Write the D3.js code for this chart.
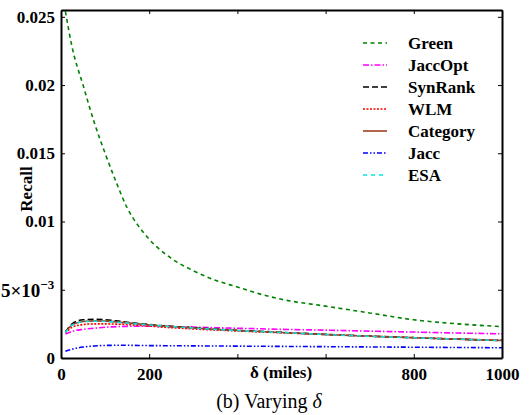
<!DOCTYPE html>
<html>
<head>
<meta charset="utf-8">
<script src="https://cdn.jsdelivr.net/npm/d3@7"></script>
<style>
  body { margin: 0; background: #fff; }
  svg { display: block; font-family: "Liberation Serif", "Times New Roman", serif; }
</style>
</head>
<body>
<svg id="chart"></svg>
<script>
const width = 531;
const height = 415;
const margin = { top: 10, right: 29, bottom: 57, left: 61 };

const delta = [10, 25, 50, 75, 100, 125, 150, 175, 200, 250, 300, 350, 400, 450, 500, 600, 700, 800, 900, 1000];

const green    = [0.0254, 0.0228, 0.0200, 0.0173, 0.0150, 0.0129, 0.0110, 0.0097, 0.0087, 0.0073, 0.0064, 0.0057, 0.0052, 0.0047, 0.0043, 0.0038, 0.0033, 0.0028, 0.0025, 0.0023];
const jaccOpt  = [0.00175, 0.00195, 0.0021, 0.00218, 0.00225, 0.0023, 0.00232, 0.00233, 0.00233, 0.0023, 0.00226, 0.00222, 0.00218, 0.00214, 0.0021, 0.00204, 0.00197, 0.0019, 0.00183, 0.00177];
const synRank  = [0.0019, 0.0025, 0.0028, 0.00283, 0.0028, 0.00272, 0.00262, 0.00253, 0.00245, 0.00232, 0.00222, 0.00212, 0.00203, 0.00196, 0.00188, 0.00173, 0.0016, 0.00149, 0.00138, 0.00128];
const wlm      = [0.00182, 0.00225, 0.00245, 0.0025, 0.0025, 0.00248, 0.00245, 0.0024, 0.00234, 0.00222, 0.00213, 0.00205, 0.00198, 0.00191, 0.00185, 0.00172, 0.0016, 0.00149, 0.00139, 0.0013];
const category = [0.00188, 0.00243, 0.00268, 0.00272, 0.0027, 0.00265, 0.00258, 0.0025, 0.00243, 0.0023, 0.0022, 0.0021, 0.00201, 0.00194, 0.00187, 0.00172, 0.00159, 0.00148, 0.00138, 0.00128];
const jacc     = [0.0005, 0.00065, 0.0008, 0.00088, 0.00092, 0.00093, 0.00093, 0.00092, 0.00091, 0.0009, 0.00089, 0.00088, 0.00087, 0.00086, 0.00085, 0.00083, 0.00081, 0.00079, 0.00077, 0.00075];
const esa      = [0.00185, 0.0024, 0.00265, 0.0027, 0.00268, 0.00263, 0.00256, 0.00249, 0.00242, 0.0023, 0.0022, 0.0021, 0.00201, 0.00194, 0.00187, 0.00172, 0.00159, 0.00148, 0.00138, 0.00128];

const xTicks = [0, 200, 400, 600, 800, 1000];
const xTickLabels = ["0", "200", "", "", "800", "1000"];
const yTicks = [0, 0.005, 0.01, 0.015, 0.02, 0.025];
const yTickLabels = ["0", "", "0.01", "0.015", "0.02", "0.025"];

const series = [
  { name: "Green",    values: green,    color: "#008000", dash: "4,3.5" },
  { name: "JaccOpt",  values: jaccOpt,  color: "#ff00ff", dash: "6,2,1.5,2" },
  { name: "SynRank",  values: synRank,  color: "#000000", dash: "6,3" },
  { name: "WLM",      values: wlm,      color: "#ff0000", dash: "2,1.5" },
  { name: "Category", values: category, color: "#a0401e", dash: null },
  { name: "Jacc",     values: jacc,     color: "#0000ff", dash: "5,2,1.5,2,1.5,2" },
  { name: "ESA",      values: esa,      color: "#00e5e5", dash: "4,4" }
];

const svg = d3.select("#chart").attr("width", width).attr("height", height);

const x = d3.scaleLinear().domain([0, 1000]).range([margin.left, width - margin.right]);
const y = d3.scaleLinear().domain([0, 0.0255]).range([height - margin.bottom, margin.top]);

svg.append("defs").append("clipPath").attr("id", "plot-clip")
  .append("rect")
  .attr("x", margin.left).attr("y", margin.top)
  .attr("width", width - margin.left - margin.right)
  .attr("height", height - margin.top - margin.bottom);

// lines
const line = d3.line()
  .x((d, i) => x(delta[i]))
  .y(d => y(d))
  .curve(d3.curveMonotoneX);

svg.append("g").attr("clip-path", "url(#plot-clip)")
  .selectAll("path")
  .data(series)
  .enter()
  .append("path")
  .attr("d", s => line(s.values))
  .attr("fill", "none")
  .attr("stroke", s => s.color)
  .attr("stroke-width", 1.6)
  .attr("stroke-dasharray", s => s.dash);

// axes, ticks pointing inward, mirrored on top and right
const fontSize = 17;
const styleAxis = (g) => {
  g.selectAll(".domain").attr("stroke-width", 2);
  g.selectAll(".tick line").attr("stroke-width", 1);
  g.selectAll("text")
    .attr("font-size", fontSize)
    .attr("font-weight", "bold")
    .attr("font-family", "Liberation Serif, Times New Roman, serif")
    .attr("fill", "#000");
};

svg.append("g")
  .attr("transform", "translate(0," + (height - margin.bottom) + ")")
  .call(d3.axisBottom(x).tickValues(xTicks).tickFormat((d, i) => xTickLabels[i]).tickSizeInner(-4).tickSizeOuter(0).tickPadding(10))
  .call(styleAxis);

svg.append("g")
  .attr("transform", "translate(0," + margin.top + ")")
  .call(d3.axisTop(x).tickValues(xTicks).tickFormat("").tickSizeInner(-4).tickSizeOuter(0))
  .call(styleAxis);

svg.append("g")
  .attr("transform", "translate(" + margin.left + ",0)")
  .call(d3.axisLeft(y).tickValues(yTicks).tickFormat((d, i) => yTickLabels[i]).tickSizeInner(-4).tickSizeOuter(0).tickPadding(6))
  .call(styleAxis);

svg.append("g")
  .attr("transform", "translate(" + (width - margin.right) + ",0)")
  .call(d3.axisRight(y).tickValues(yTicks).tickFormat("").tickSizeInner(-4).tickSizeOuter(0))
  .call(styleAxis);

// the 5x10^-3 label, right up against the left edge
const expLabel = svg.append("text")
  .attr("x", 1)
  .attr("y", y(0.005) + 7)
  .attr("font-weight", "bold")
  .attr("font-size", 19);
expLabel.append("tspan").text("5×10");
expLabel.append("tspan").attr("font-size", 13).attr("dy", -8).text("−3");

// axis titles
svg.append("text")
  .attr("transform", "translate(32," + 189 + ") rotate(-90)")
  .attr("text-anchor", "middle")
  .attr("font-size", 17)
  .attr("font-weight", "bold")
  .text("Recall");

svg.append("text")
  .attr("x", 281)
  .attr("y", 378)
  .attr("text-anchor", "middle")
  .attr("font-size", 17)
  .attr("font-weight", "bold")
  .text("δ (miles)");

const caption = svg.append("text")
  .attr("x", 269)
  .attr("y", 408)
  .attr("text-anchor", "middle")
  .attr("font-size", 20);
caption.append("tspan").text("(b) Varying ");
caption.append("tspan").attr("font-style", "italic").text("δ");

// legend
const legend = svg.append("g");
series.forEach((s, i) => {
  const ly = 43 + i * 22;
  legend.append("line")
    .attr("x1", 363).attr("x2", 387)
    .attr("y1", ly).attr("y2", ly)
    .attr("stroke", s.color)
    .attr("stroke-width", 1.6)
    .attr("stroke-dasharray", s.dash);
  legend.append("text")
    .attr("x", 408)
    .attr("y", ly)
    .attr("dy", "0.35em")
    .attr("font-size", 17)
    .attr("font-weight", "bold")
    .text(s.name);
});
</script>
</body>
</html>
